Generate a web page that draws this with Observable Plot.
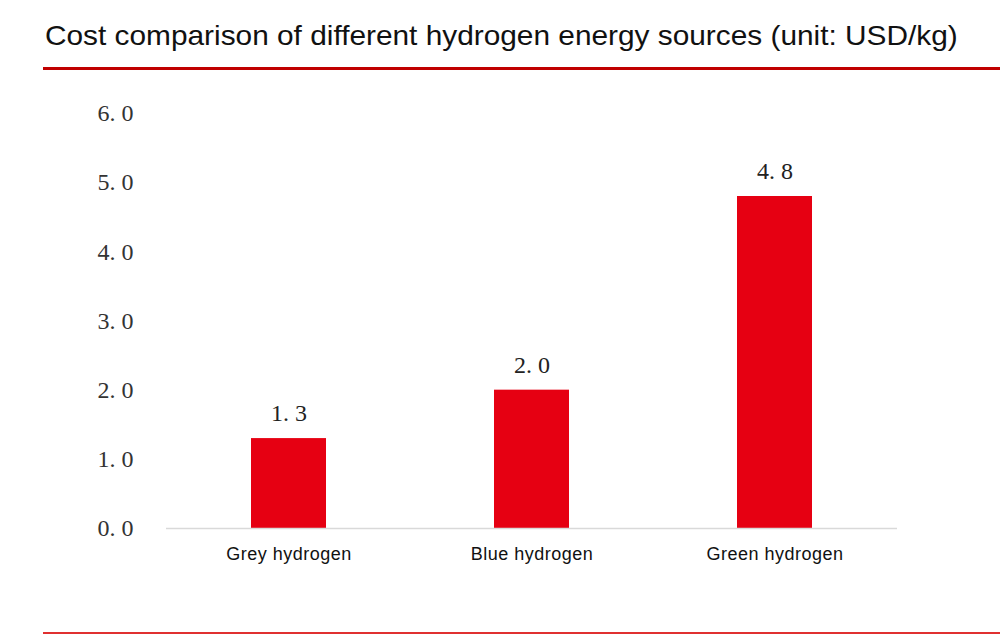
<!DOCTYPE html>
<html>
<head>
<meta charset="utf-8">
<script src="https://cdn.jsdelivr.net/npm/d3@7"></script>
<script src="https://cdn.jsdelivr.net/npm/@observablehq/plot@0.6"></script>
<style>
  body { margin: 0; background: #fff; width: 1000px; height: 635px; overflow: hidden; position: relative; }
  #title { position: absolute; left: 45px; top: 20px; font-family: "Liberation Sans", Arial, sans-serif; font-size: 28px; color: #111; white-space: nowrap; transform-origin: 0 0; transform: scaleX(1.065); }
  #topline { position: absolute; left: 43px; top: 67px; width: 957px; height: 3px; background: #c00000; }
  #bottomline { position: absolute; left: 43px; top: 632px; width: 957px; height: 2px; background: #e03030; }
  #chart { position: absolute; left: 0; top: 80px; }
</style>
</head>
<body>
<div id="title">Cost comparison of different hydrogen energy sources (unit: USD/kg)</div>
<div id="topline"></div>
<div id="chart"></div>
<div id="bottomline"></div>
<script>
const categories = ["Grey hydrogen", "Blue hydrogen", "Green hydrogen"];
const costs = [1.3, 2.0, 4.8];
const yTicks = [0, 1, 2, 3, 4, 5, 6];

const data = categories.map((c, i) => ({category: c, cost: costs[i]}));
const fmt = d => d.toFixed(1).replace(".", ". ");
const serif = "'Liberation Serif', 'DejaVu Serif', serif";

const chart = Plot.plot({
  width: 1000,
  height: 530,
  marginLeft: 166,
  marginRight: 103,
  marginTop: 33,
  marginBottom: 82,
  x: {domain: categories, paddingInner: 0.69, paddingOuter: 0.345, label: null},
  y: {domain: [0, 6], label: null},
  marks: [
    Plot.axisY({ticks: yTicks, tickSize: 0, tickPadding: 33, tickFormat: fmt,
      fontFamily: serif, fontSize: 24, fill: "#333"}),
    Plot.axisX({tickSize: 0, tickPadding: 19,
      fontFamily: "'Liberation Sans', Arial, sans-serif", fontSize: 18, fill: "#111"}),
    Plot.barY(data, {x: "category", y: "cost", fill: "#e60012"}),
    Plot.ruleY([0], {stroke: "#d9d9d9", strokeWidth: 1.5}),
    Plot.text(data, {x: "category", y: "cost", text: d => fmt(d.cost), dy: -25,
      fontFamily: serif, fontSize: 24, fill: "#222"})
  ]
});
d3.select(chart).selectAll('g[aria-label="x-axis tick label"] text').attr("letter-spacing", "0.5px");
document.getElementById("chart").appendChild(chart);
</script>
</body>
</html>
